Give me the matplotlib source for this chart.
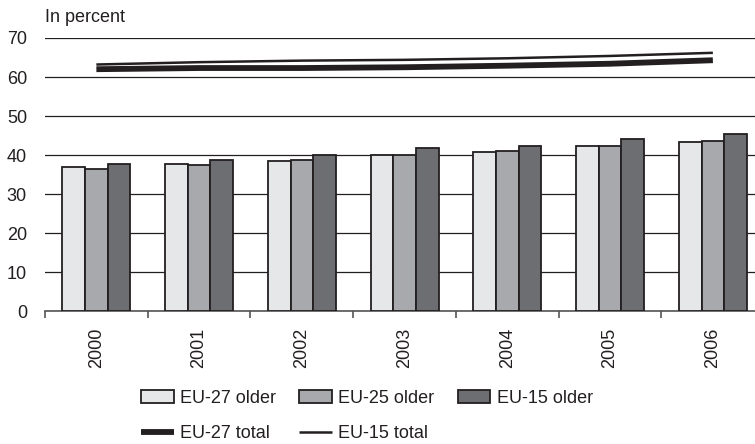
import matplotlib
matplotlib.use("Agg")
import matplotlib.pyplot as plt
from matplotlib.patches import Patch
from matplotlib.lines import Line2D
import numpy as np

plt.rcParams['font.family'] = ['Liberation Sans', 'DejaVu Sans']

years = ['2000', '2001', '2002', '2003', '2004', '2005', '2006']
eu27_older = [36.9, 37.7, 38.4, 40.0, 40.7, 42.3, 43.4]
eu25_older = [36.5, 37.4, 38.7, 40.1, 41.0, 42.4, 43.7]
eu15_older = [37.8, 38.7, 40.1, 41.7, 42.4, 44.0, 45.3]
eu27_total = [62.0, 62.3, 62.3, 62.5, 62.9, 63.4, 64.3]
eu15_total = [63.2, 63.8, 64.2, 64.4, 64.8, 65.4, 66.2]

c27 = '#e6e7e8'
c25 = '#a7a9ac'
c15 = '#6d6e71'
ink = '#231f20'
fs = 13

fig = plt.figure(figsize=(7.55, 4.44), dpi=100)
ax = fig.add_axes([45/755, 133/444, 710/755, 273/444])

x = np.arange(len(years))
w = 0.22
ax.bar(x - w, eu27_older, w, color=c27, edgecolor=ink, linewidth=1.3, zorder=3)
ax.bar(x, eu25_older, w, color=c25, edgecolor=ink, linewidth=1.3, zorder=3)
ax.bar(x + w, eu15_older, w, color=c15, edgecolor=ink, linewidth=1.3, zorder=3)
ax.plot(x, eu27_total, color=ink, linewidth=4.2, solid_capstyle='butt', zorder=4)
ax.plot(x, eu15_total, color=ink, linewidth=1.8, solid_capstyle='butt', zorder=4)

ax.set_ylim(0, 70)
ax.set_xlim(-0.5, 6.41)
ax.set_yticks(np.arange(0, 71, 10))
ax.yaxis.grid(True, color=ink, linewidth=0.9, zorder=0)
ax.set_axisbelow(True)
for s in ['left', 'right', 'top']:
    ax.spines[s].set_visible(False)
ax.spines['bottom'].set_color('#555555')
ax.spines['bottom'].set_linewidth(1.2)
ax.tick_params(axis='y', length=0, labelsize=fs, pad=13, labelcolor=ink)
ax.set_xticks(x)
ax.set_xticklabels(years, rotation=90, fontsize=fs, color=ink)
ax.tick_params(axis='x', which='major', length=0, pad=12)
ax.set_xticks(np.arange(-0.5, 6.0, 1.0), minor=True)
ax.tick_params(axis='x', which='minor', length=5, width=1.2, color='#555555', direction='out')

fig.text(45/755, 1 - 18/444, 'In percent', fontsize=fs, color=ink, va='center', ha='left')

handles = [
    Patch(facecolor=c27, edgecolor=ink, linewidth=1.3),
    Line2D([], [], color=ink, linewidth=4.2, solid_capstyle='butt'),
    Patch(facecolor=c25, edgecolor=ink, linewidth=1.3),
    Line2D([], [], color=ink, linewidth=1.8, solid_capstyle='butt'),
    Patch(facecolor=c15, edgecolor=ink, linewidth=1.3),
    Patch(facecolor='none', edgecolor='none'),
]
labels = ['EU-27 older', 'EU-27 total', 'EU-25 older', 'EU-15 total', 'EU-15 older', '']
leg = fig.legend(handles, labels, ncol=3, loc='center left',
                 bbox_to_anchor=(141/755, 1 - 416/444), frameon=False,
                 fontsize=fs, handlelength=1.8, handleheight=0.7,
                 handletextpad=0.35, columnspacing=1.3, labelspacing=1.05,
                 borderpad=0, borderaxespad=0)
for t in leg.get_texts():
    t.set_color(ink)

fig.savefig('out.png', dpi=100)
